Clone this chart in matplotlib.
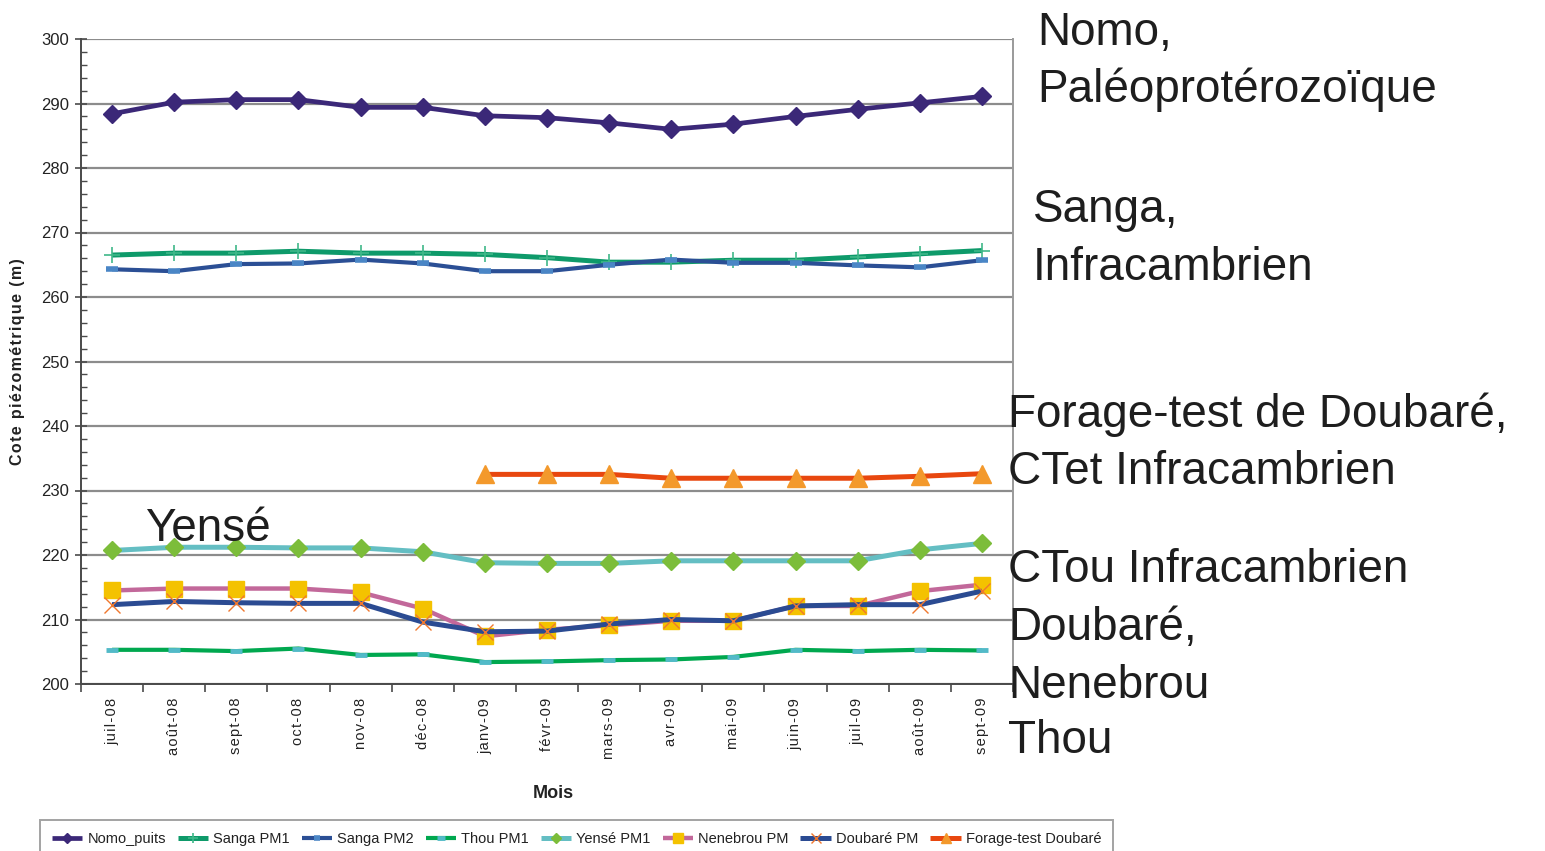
import numpy as np
import matplotlib
matplotlib.use("Agg")
import matplotlib.pyplot as plt
from matplotlib.ticker import MultipleLocator, FixedLocator

# ---- data -------------------------------------------------------------
months = ["juil-08", "août-08", "sept-08", "oct-08", "nov-08", "déc-08",
          "janv-09", "févr-09", "mars-09", "avr-09", "mai-09", "juin-09",
          "juil-09", "août-09", "sept-09"]

nomo_puits = [288.4, 290.2, 290.6, 290.6, 289.4, 289.4, 288.1, 287.8,
              287.0, 286.0, 286.8, 288.0, 289.1, 290.1, 291.1]
sanga_pm1 = [266.5, 266.8, 266.8, 267.1, 266.8, 266.8, 266.6, 266.1,
             265.4, 265.4, 265.7, 265.7, 266.2, 266.7, 267.2]
sanga_pm2 = [264.3, 264.0, 265.1, 265.2, 265.8, 265.2, 264.0, 264.0,
             265.0, 265.8, 265.3, 265.3, 264.9, 264.6, 265.7]
thou_pm1 = [205.3, 205.3, 205.1, 205.5, 204.5, 204.6, 203.4, 203.5,
            203.7, 203.8, 204.2, 205.3, 205.1, 205.3, 205.2]
yense_pm1 = [220.7, 221.2, 221.2, 221.1, 221.1, 220.5, 218.8, 218.7,
             218.7, 219.1, 219.1, 219.1, 219.1, 220.8, 221.8]
nenebrou_pm = [214.5, 214.8, 214.8, 214.8, 214.2, 211.7, 207.4, 208.4,
               209.1, 209.8, 209.8, 212.1, 212.1, 214.4, 215.4]
doubare_pm = [212.3, 212.8, 212.6, 212.5, 212.5, 209.6, 208.1, 208.2,
              209.3, 210.0, 209.8, 212.1, 212.3, 212.3, 214.4]
forage_test = [np.nan] * 6 + [232.5, 232.5, 232.5, 231.9, 231.9, 231.9,
                              231.9, 232.2, 232.6]

series_names = ["Nomo_puits", "Sanga PM1", "Sanga PM2", "Thou PM1",
                "Yensé PM1", "Nenebrou PM", "Doubaré PM", "Forage-test Doubaré"]

# ---- figure -------------------------------------------------------------
W, H = 1545, 851
plt.rcParams['font.family'] = ['Liberation Sans', 'DejaVu Sans']
fig = plt.figure(figsize=(W / 100, H / 100), dpi=100)


def fx(px):
    return px / W


def fy(py):
    return 1 - py / H


def spaced(s, sep="\u200a"):
    """Loosen the tracking of a label with hair spaces."""
    return sep.join(s)


ax = fig.add_axes([fx(81), fy(684), fx(1013) - fx(81), fy(39) - fy(684)])
x = np.arange(len(months))

styles = [
    dict(data=nomo_puits, color="#3b2878", lw=3.4, marker="D", ms=9,
         mfc="#3b2878", mec="#3b2878"),
    dict(data=sanga_pm1, color="#0e9a6a", lw=3.6, marker="+", ms=11,
         mfc="#3fb889", mec="#3fb889", mew=1.2),
    dict(data=sanga_pm2, color="#2b4f95", lw=3.0, marker="_", ms=8,
         mfc="#4a86c6", mec="#4a86c6", mew=4),
    dict(data=thou_pm1, color="#00a84f", lw=3.0, marker="_", ms=9,
         mfc="#52bac8", mec="#52bac8", mew=3.5),
    dict(data=yense_pm1, color="#64bec3", lw=3.6, marker="D", ms=9,
         mfc="#7cbd3a", mec="#7cbd3a"),
    dict(data=nenebrou_pm, color="#c2689a", lw=3.2, marker="s", ms=12,
         mfc="#f4c200", mec="#f4c200"),
    dict(data=doubare_pm, color="#2b4b92", lw=3.6, marker="x", ms=11,
         mfc="#f0782e", mec="#f0782e", mew=1.0),
    dict(data=forage_test, color="#e8470f", lw=3.6, marker="^", ms=13,
         mfc="#f3992c", mec="#f3992c"),
]

handles = []
for name, st in zip(series_names, styles):
    st = dict(st)
    data = st.pop("data")
    h, = ax.plot(x, data, label=name, solid_joinstyle="round",
                 solid_capstyle="butt", zorder=3, **st)
    handles.append(h)

# axes limits / grid
ax.set_xlim(-0.5, len(months) - 0.5)
ax.set_ylim(200, 300)
ax.yaxis.set_major_locator(MultipleLocator(10))
ax.yaxis.set_minor_locator(MultipleLocator(2))
ax.grid(axis="y", which="major", color="#8c8c8c", lw=1.6, zorder=1)

for side in ("left", "bottom"):
    ax.spines[side].set_color("#4a4a4a")
    ax.spines[side].set_linewidth(1.4)
ax.spines["right"].set_color("#9a9a9a")
ax.spines["right"].set_linewidth(1.4)
ax.spines["top"].set_visible(False)

ax.tick_params(axis="y", which="major", direction="inout", length=9,
               width=1.2, color="#4a4a4a", labelsize=12, pad=4,
               labelcolor="#222222")
ax.tick_params(axis="y", which="minor", direction="in", length=4,
               width=1.0, color="#4a4a4a")

ax.xaxis.set_major_locator(FixedLocator(x))
ax.set_xticklabels([spaced(m) for m in months], rotation=90, fontsize=10.5,
                   color="#222222")
ax.xaxis.set_minor_locator(FixedLocator(np.arange(len(months) + 1) - 0.5))
ax.tick_params(axis="x", which="major", length=0, pad=10)
ax.tick_params(axis="x", which="minor", direction="out", length=6,
               width=1.2, color="#4a4a4a")

ax.set_ylabel(spaced("Cote piézométrique (m)"), fontsize=11.5,
              fontweight="bold", color="#222222", labelpad=12)
ax.set_xlabel("Mois", fontsize=13, fontweight="bold", color="#222222")
ax.xaxis.set_label_coords(fx(553 - 81) / (fx(1013) - fx(81)),
                          (fy(793) - fy(684)) / (fy(39) - fy(684)))
ax.xaxis.label.set_va("center")

# group labels on the right of the plot and inside it
big = dict(fontsize=33, color="#1e1e1e", va="baseline", ha="left")
fig.text(fx(1037), fy(45), "Nomo,", **big)
fig.text(fx(1037), fy(102), "Paléoprotérozoïque", **big)
fig.text(fx(1033), fy(222), "Sanga,", **big)
fig.text(fx(1033), fy(280), "Infracambrien", **big)
fig.text(fx(1008), fy(427), "Forage-test de Doubaré,", **big)
fig.text(fx(1008), fy(484), "CTet Infracambrien", **big)
fig.text(fx(1008), fy(582), "CTou Infracambrien", **big)
fig.text(fx(1008), fy(640), "Doubaré,", **big)
fig.text(fx(1008), fy(698), "Nenebrou", **big)
fig.text(fx(1008), fy(753), "Thou", **big)
fig.text(fx(145), fy(541), "Yensé", **big)

leg = fig.legend(handles=handles, loc="upper left",
                 bbox_to_anchor=(fx(40), fy(820)), ncol=8, fontsize=10.5,
                 frameon=True, fancybox=False, edgecolor="#8c8c8c",
                 handlelength=2.1, handletextpad=0.35, columnspacing=0.8,
                 borderpad=0.8, borderaxespad=0, markerscale=0.6,
                 numpoints=1)
leg.get_frame().set_linewidth(1.4)
for t in leg.get_texts():
    t.set_color("#222222")

fig.savefig("out.png", dpi=100)
